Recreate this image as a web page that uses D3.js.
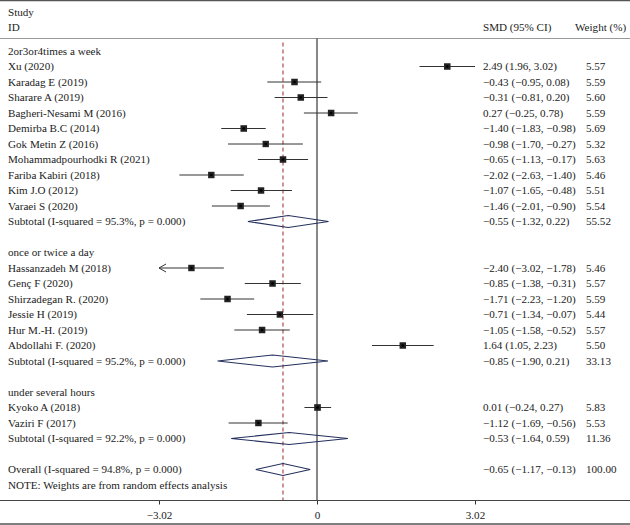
<!DOCTYPE html>
<html>
<head>
<meta charset="utf-8">
<script src="https://cdn.jsdelivr.net/npm/d3@7"></script>
<style>
  body { margin: 0; background: #fff; }
  svg text { font-family: "Liberation Serif", "DejaVu Serif", serif; font-size: 11.1px; fill: #222; }
</style>
</head>
<body>
<svg id="chart" width="630" height="525"></svg>
<script>
// group names
var groupNames = ['2or3or4times a week', 'once or twice a day', 'under several hours'];

// studies per group: name, SMD, lower, upper, weight
var studyNames = [
  ['Xu (2020)', 'Karadag E (2019)', 'Sharare A (2019)', 'Bagheri-Nesami M (2016)', 'Demirba B.C (2014)',
   'Gok Metin Z (2016)', 'Mohammadpourhodki R (2021)', 'Fariba Kabiri (2018)', 'Kim J.O (2012)', 'Varaei S (2020)'],
  ['Hassanzadeh M (2018)', 'Genç F (2020)', 'Shirzadegan R. (2020)', 'Jessie H (2019)', 'Hur M.-H. (2019)', 'Abdollahi F. (2020)'],
  ['Kyoko A (2018)', 'Vaziri F (2017)']
];
var studySmd = [
  [2.49, -0.43, -0.31, 0.27, -1.40, -0.98, -0.65, -2.02, -1.07, -1.46],
  [-2.40, -0.85, -1.71, -0.71, -1.05, 1.64],
  [0.01, -1.12]
];
var studyLow = [
  [1.96, -0.95, -0.81, -0.25, -1.83, -1.70, -1.13, -2.63, -1.65, -2.01],
  [-3.02, -1.38, -2.23, -1.34, -1.58, 1.05],
  [-0.24, -1.69]
];
var studyHigh = [
  [3.02, 0.08, 0.20, 0.78, -0.98, -0.27, -0.17, -1.40, -0.48, -0.90],
  [-1.78, -0.31, -1.20, -0.07, -0.52, 2.23],
  [0.27, -0.56]
];
var studyWeight = [
  [5.57, 5.59, 5.60, 5.59, 5.69, 5.32, 5.63, 5.46, 5.51, 5.54],
  [5.46, 5.57, 5.59, 5.44, 5.57, 5.50],
  [5.83, 5.53]
];

// subtotals per group
var subI2 = ['95.3%', '95.2%', '92.2%'];
var subSmd = [-0.55, -0.85, -0.53];
var subLow = [-1.32, -1.90, -1.64];
var subHigh = [0.22, 0.21, 0.59];
var subWeight = [55.52, 33.13, 11.36];

// overall
var overallI2 = '94.8%';
var overallSmd = -0.65, overallLow = -1.17, overallHigh = -0.13, overallWeight = 100.00;

var tickValues = [-3.02, 0, 3.02];

// build the row list
var rows = [];
groupNames.forEach(function(g, gi){
  rows.push({type: 'group', label: g});
  studyNames[gi].forEach(function(n, i){
    rows.push({type: 'study', label: n, est: studySmd[gi][i], lo: studyLow[gi][i], hi: studyHigh[gi][i], w: studyWeight[gi][i]});
  });
  rows.push({type: 'sub', label: 'Subtotal (I-squared = ' + subI2[gi] + ', p = 0.000)',
             est: subSmd[gi], lo: subLow[gi], hi: subHigh[gi], w: subWeight[gi]});
  if (gi < groupNames.length - 1) rows.push({type: 'blank'});
});
rows.push({type: 'blank'});
rows.push({type: 'sub', label: 'Overall (I-squared = ' + overallI2 + ', p = 0.000)',
           est: overallSmd, lo: overallLow, hi: overallHigh, w: overallWeight});
rows.push({type: 'note', label: 'NOTE: Weights are from random effects analysis'});

var svg = d3.select('#chart');
var W = 630, H = 525;

var x = d3.scaleLinear().domain([-3.02, 3.02]).range([159, 475]);
var y = d3.scaleLinear().domain([0, 1]).range([51, 66.5]); // row index -> center

var axisY = 500.5, topY = 38.5;

var fmt = d3.format('.2f');
function num(v){ return fmt(v).replace('-', '\u2013'); }

// frame lines
svg.append('line').attr('x1', 0).attr('x2', W).attr('y1', 0.5).attr('y2', 0.5).attr('stroke', '#555').attr('stroke-width', 1.5);
svg.append('line').attr('x1', 0).attr('x2', W).attr('y1', topY).attr('y2', topY).attr('stroke', '#999');
svg.append('line').attr('x1', 0).attr('x2', W).attr('y1', H - 1).attr('y2', H - 1).attr('stroke', '#555').attr('stroke-width', 1.5);

// headers
svg.append('text').attr('x', 8).attr('y', 16).text('Study');
svg.append('text').attr('x', 8).attr('y', 31).text('ID');
svg.append('text').attr('x', 483).attr('y', 31).text('SMD (95% CI)');
svg.append('text').attr('x', 575).attr('y', 31).text('Weight (%)');

// zero line
svg.append('line').attr('x1', x(0)).attr('x2', x(0)).attr('y1', topY).attr('y2', axisY).attr('stroke', '#111');

// overall effect dashed line
svg.append('line').attr('x1', x(overallSmd)).attr('x2', x(overallSmd)).attr('y1', topY + 4).attr('y2', axisY)
  .attr('stroke', '#9b2a2a').attr('stroke-dasharray', '4,3');

// x axis
var axis = svg.append('g').attr('transform', 'translate(0,' + axisY + ')')
  .call(d3.axisBottom(x).tickValues(tickValues).tickSize(4).tickFormat(function(d){ return d === 0 ? '0' : num(d); }));
axis.select('.domain').remove();
axis.selectAll('text').attr('dy', '1.05em').style('font-family', '"Liberation Serif", serif').style('font-size', '11.1px').attr('fill', '#222');
axis.selectAll('line').attr('stroke', '#333');
svg.append('line').attr('x1', 0).attr('x2', W).attr('y1', axisY).attr('y2', axisY).attr('stroke', '#444');

// rows
var rowG = svg.selectAll('g.row').data(rows).enter().append('g')
  .attr('class', 'row')
  .attr('transform', function(d, i){ return 'translate(0,' + y(i) + ')'; });

rowG.filter(function(d){ return d.type !== 'blank'; })
  .append('text').attr('x', 8).attr('dy', '0.35em').text(function(d){ return d.label; });

var valRows = rowG.filter(function(d){ return d.type === 'study' || d.type === 'sub'; });
valRows.append('text').attr('x', 483).attr('dy', '0.35em')
  .text(function(d){ return num(d.est) + ' (' + num(d.lo) + ', ' + num(d.hi) + ')'; });
valRows.append('text').attr('x', 586).attr('dy', '0.35em').text(function(d){ return fmt(d.w); });

// study CI lines
var studies = rowG.filter(function(d){ return d.type === 'study'; });
studies.append('line')
  .attr('x1', function(d){ return x(Math.max(d.lo, -3.02)); })
  .attr('x2', function(d){ return x(Math.min(d.hi, 3.02)); })
  .attr('stroke', '#333');
// arrow where the CI runs off the scale
studies.filter(function(d){ return d.lo <= -3.02; })
  .append('path')
  .attr('d', function(d){ var ax = x(-3.02); return 'M' + (ax + 7) + ',-4 L' + ax + ',0 L' + (ax + 7) + ',4'; })
  .attr('fill', 'none').attr('stroke', '#333');
// weight squares
var sq = d3.scaleSqrt().domain([0, 5.57]).range([0, 6.5]);
studies.append('rect')
  .attr('x', function(d){ return x(d.est) - sq(d.w) / 2; })
  .attr('y', function(d){ return -sq(d.w) / 2; })
  .attr('width', function(d){ return sq(d.w); })
  .attr('height', function(d){ return sq(d.w); })
  .attr('fill', '#222');
studies.append('circle').attr('cx', function(d){ return x(d.est); }).attr('r', 1.3).attr('fill', '#000');

// pooled diamonds
rowG.filter(function(d){ return d.type === 'sub'; })
  .append('path')
  .attr('d', function(d){
    return 'M' + x(d.lo) + ',0 L' + x(d.est) + ',-6 L' + x(d.hi) + ',0 L' + x(d.est) + ',6 Z';
  })
  .attr('fill', 'none').attr('stroke', '#25305e').attr('stroke-width', 1.1);
</script>
</body>
</html>
